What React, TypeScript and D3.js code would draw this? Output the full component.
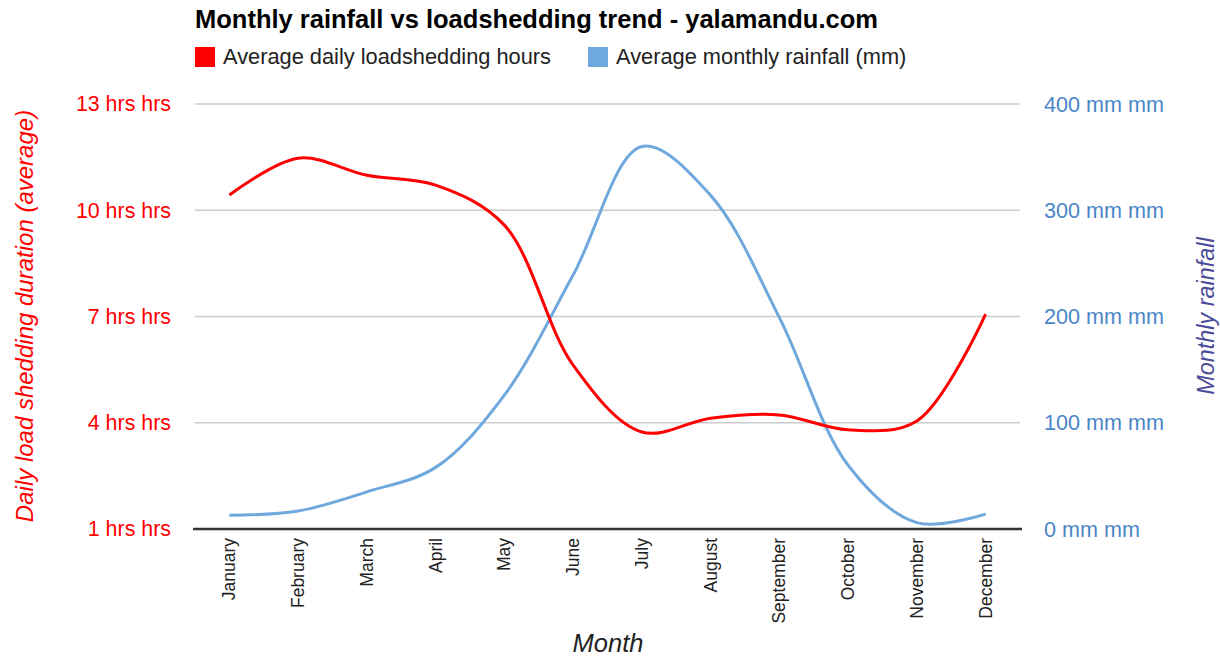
import React from "react";
import * as d3 from "d3";

const months = ["January","February","March","April","May","June","July","August","September","October","November","December"];
const loadsheddingHours = [10.43, 11.47, 10.99, 10.71, 9.58, 5.63, 3.74, 4.13, 4.22, 3.8, 4.05, 7.07];
const rainfallMm = [13, 17, 35, 58, 126, 239, 360, 314, 199, 60, 6, 14];
const leftTicks = [1, 4, 7, 10, 13];
const rightTicks = [0, 100, 200, 300, 400];

const W = 1220, H = 656;
const plot = { left: 195, right: 1020, top: 104, bottom: 529 };

export default function App() {
  const x = d3.scalePoint<string>().domain(months).range([plot.left, plot.right]).padding(0.5);
  const yL = d3.scaleLinear().domain([1, 13]).range([plot.bottom, plot.top]);
  const yR = d3.scaleLinear().domain([0, 400]).range([plot.bottom, plot.top]);
  const curve = d3.curveCatmullRom.alpha(0.5);
  const redLine = d3.line<number>().x((_, i) => x(months[i])!).y(d => yL(d)).curve(curve)(loadsheddingHours)!;
  const blueLine = d3.line<number>().x((_, i) => x(months[i])!).y(d => yR(d)).curve(curve)(rainfallMm)!;
  const font = "Arial, 'Liberation Sans', sans-serif";
  return (
    <svg width={W} height={H} style={{ position: "absolute", left: 0, top: 0, background: "#fff" }} fontFamily={font}>
      <text x={195} y={28} fontSize={25.5} fontWeight="bold" fill="#000">Monthly rainfall vs loadshedding trend - yalamandu.com</text>
      <rect x={195} y={47} width={20} height={20} fill="#ff0000" />
      <text x={223} y={64} fontSize={21.8} fill="#222">Average daily loadshedding hours</text>
      <rect x={588} y={47} width={20} height={20} fill="#6fa8dc" />
      <text x={616} y={64} fontSize={21.8} fill="#222">Average monthly rainfall (mm)</text>
      {leftTicks.map(t => (
        <line key={"g" + t} x1={plot.left} x2={plot.right} y1={yL(t)} y2={yL(t)} stroke="#cccccc" strokeWidth={1.5} />
      ))}
      {leftTicks.map(t => (
        <text key={"l" + t} x={171} y={yL(t)} dy="0.35em" textAnchor="end" fontSize={21.4} fill="#ff0000">{t} hrs hrs</text>
      ))}
      {rightTicks.map(t => (
        <text key={"r" + t} x={1044} y={yR(t)} dy="0.35em" textAnchor="start" fontSize={21.6} fill="#4a86c8">{t} mm mm</text>
      ))}
      <line x1={plot.left - 2} x2={plot.right + 2} y1={plot.bottom} y2={plot.bottom} stroke="#333" strokeWidth={2.5} />
      <path d={blueLine} fill="none" stroke="#6fa8dc" strokeWidth={3} />
      <path d={redLine} fill="none" stroke="#ff0000" strokeWidth={3} />
      {months.map(m => (
        <text key={m} transform={`translate(${x(m)! + 6},538) rotate(-90)`} textAnchor="end" fontSize={17.5} fill="#222">{m}</text>
      ))}
      <text x={608} y={652} textAnchor="middle" fontSize={25.5} fontStyle="italic" fill="#222">Month</text>
      <text transform={`translate(33,316) rotate(-90)`} textAnchor="middle" fontSize={24} fontStyle="italic" fill="#ff0000">Daily load shedding duration (average)</text>
      <text transform={`translate(1214,316) rotate(-90)`} textAnchor="middle" fontSize={23.4} fontStyle="italic" fill="#4b4b9a">Monthly rainfall</text>
    </svg>
  );
}
